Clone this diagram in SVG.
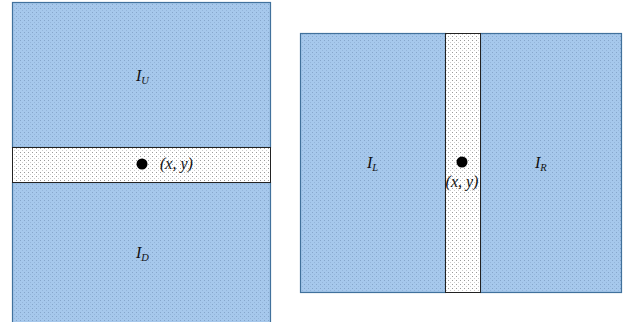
<svg xmlns="http://www.w3.org/2000/svg" width="634" height="322" viewBox="0 0 634 322">
  <defs>
    <pattern id="dotsBlue" x="0" y="0" width="4" height="4" patternUnits="userSpaceOnUse">
      <rect width="4" height="4" fill="#a6c8ec"/>
      <rect x="0" y="0" width="1" height="1" fill="#86a6cb"/>
      <rect x="2" y="2" width="1" height="1" fill="#94b5da"/>
    </pattern>
    <pattern id="dotsWhite" x="0" y="0" width="4" height="4" patternUnits="userSpaceOnUse">
      <rect width="4" height="4" fill="#ffffff"/>
      <rect x="0" y="0" width="1" height="1" fill="#9a9a9a"/>
      <rect x="2" y="2" width="1" height="1" fill="#cccccc"/>
    </pattern>
  </defs>
  <style>
    .blue { fill: url(#dotsBlue); stroke: #41719c; stroke-width: 1.2; }
    .white { fill: url(#dotsWhite); stroke: #222; stroke-width: 1; }
    .lbl { font-family: "Liberation Serif", "DejaVu Serif", serif; font-style: italic; font-size: 16px; fill: #111; }
    .sub { font-size: 10.5px; }
    .pt { fill: #000; }
  </style>

  <g id="left-panel">
    <g id="region-IU">
      <rect class="blue" x="12.5" y="2.5" width="258" height="145"/>
      <text class="lbl" x="136" y="81">I<tspan class="sub" dy="3">U</tspan></text>
    </g>
    <g id="region-ID">
      <rect class="blue" x="12.5" y="182.5" width="258" height="142"/>
      <text class="lbl" x="136" y="258">I<tspan class="sub" dy="3">D</tspan></text>
    </g>
    <g id="band-h">
      <rect class="white" x="12.5" y="147.5" width="258" height="35"/>
      <circle class="pt" cx="142" cy="164" r="5.5"/>
      <text class="lbl" x="160" y="169">(x, y)</text>
    </g>
  </g>

  <g id="right-panel">
    <g id="region-IL">
      <rect class="blue" x="300.5" y="33.5" width="145" height="259"/>
      <text class="lbl" x="367" y="168">I<tspan class="sub" dy="3">L</tspan></text>
    </g>
    <g id="region-IR">
      <rect class="blue" x="480.5" y="33.5" width="141" height="259"/>
      <text class="lbl" x="535" y="168">I<tspan class="sub" dy="3">R</tspan></text>
    </g>
    <g id="band-v">
      <rect class="white" x="445.5" y="33.5" width="35" height="259"/>
      <circle class="pt" cx="462" cy="162" r="5.5"/>
      <text class="lbl" x="462" y="187" text-anchor="middle">(x, y)</text>
    </g>
  </g>
</svg>
